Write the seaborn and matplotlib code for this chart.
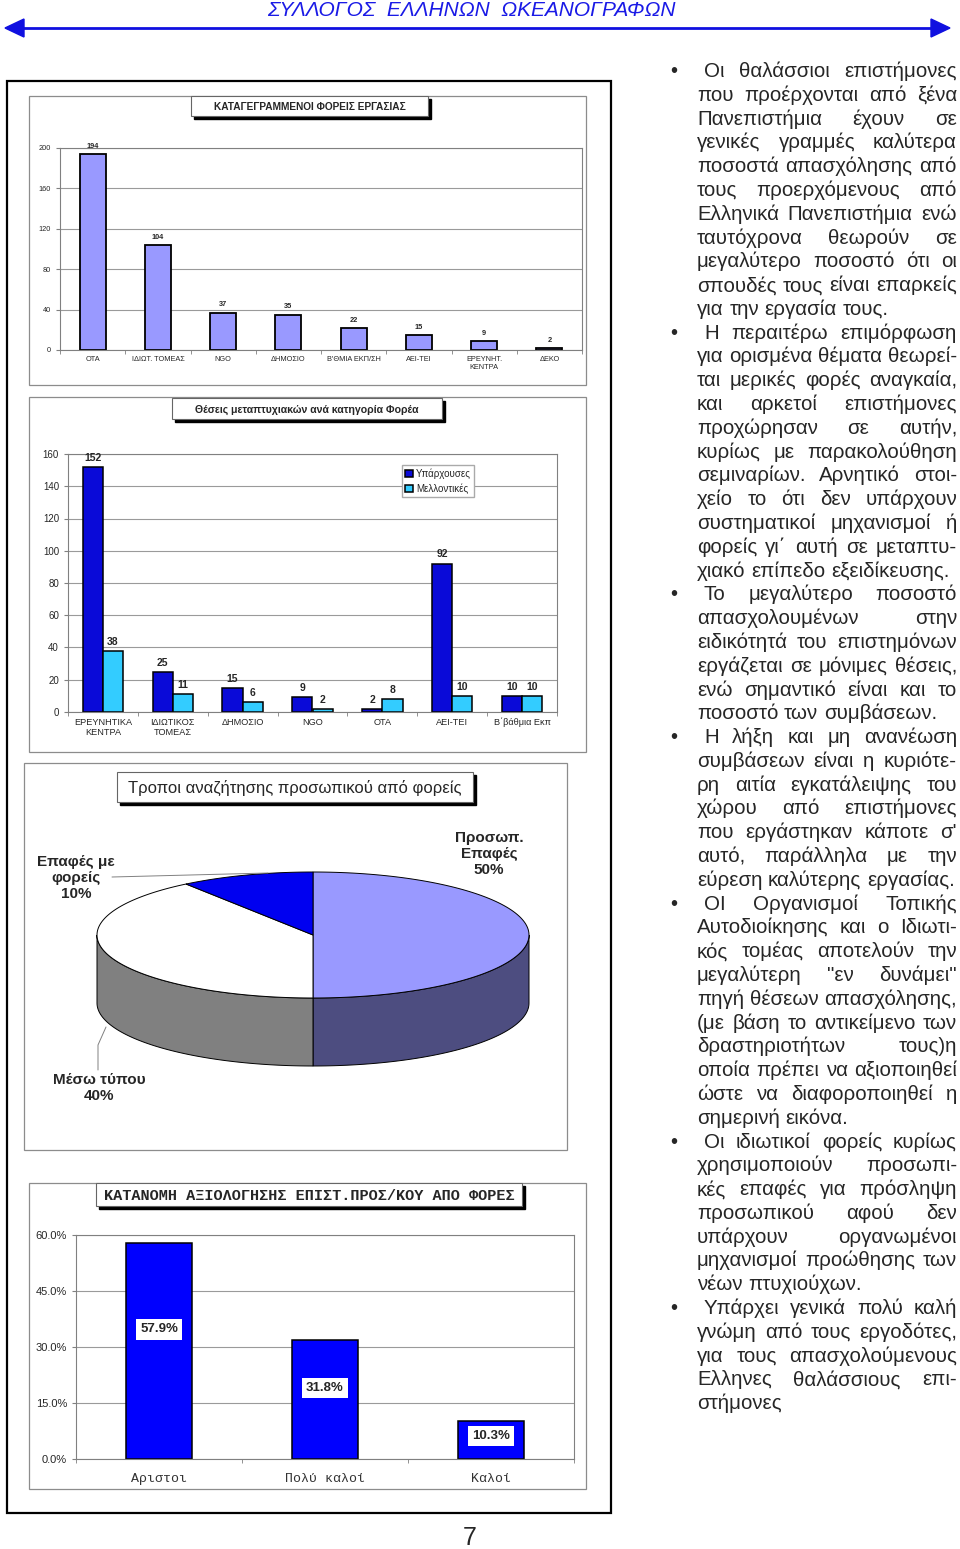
import numpy as np
import pandas as pd
import matplotlib
matplotlib.use('Agg')
import matplotlib.pyplot as plt
from matplotlib.patches import Rectangle, Polygon
from matplotlib.ticker import PercentFormatter
import seaborn as sns

W, H = 960, 1549

# --- data ---
cats1 = ['ΟΤΑ', 'ΙΔΙΩΤ. ΤΟΜΕΑΣ', 'NGO', 'ΔΗΜΟΣΙΟ', "Β'ΘΜΙΑ ΕΚΠ/ΣΗ", 'ΑΕΙ-ΤΕΙ', 'ΕΡΕΥΝΗΤ.\nΚΕΝΤΡΑ', 'ΔΕΚΟ']
vals1 = [194, 104, 37, 35, 22, 15, 9, 2]

cats2 = ['ΕΡΕΥΝΗΤΙΚΑ\nΚΕΝΤΡΑ', 'ΙΔΙΩΤΙΚΟΣ\nΤΟΜΕΑΣ', 'ΔΗΜΟΣΙΟ', 'NGO', 'ΟΤΑ', 'ΑΕΙ-ΤΕΙ', 'Β΄βάθμια Εκπ']
existing = [152, 25, 15, 9, 2, 92, 10]
future = [38, 11, 6, 2, 8, 10, 10]
series2 = ['Υπάρχουσες', 'Μελλοντικές']

pie_names = ['Προσωπ.\nΕπαφές', 'Μέσω τύπου', 'Επαφές με\nφορείς']
pie_vals = [50, 40, 10]

cats4 = ['Αριστοι', 'Πολύ καλοί', 'Καλοί']
vals4 = [0.579, 0.318, 0.103]

paragraphs = [
    [' Οι θαλάσσιοι επιστήμονες', 'που προέρχονται από ξένα', 'Πανεπιστήμια έχουν σε',
     'γενικές γραμμές καλύτερα', 'ποσοστά απασχόλησης από', 'τους προερχόμενους από',
     'Ελληνικά Πανεπιστήμια ενώ', 'ταυτόχρονα θεωρούν σε', 'μεγαλύτερο ποσοστό ότι οι',
     'σπουδές τους είναι επαρκείς', 'για την εργασία τους.'],
    [' Η περαιτέρω επιμόρφωση', 'για ορισμένα θέματα θεωρεί-', 'ται μερικές φορές αναγκαία,',
     'και αρκετοί επιστήμονες', 'προχώρησαν σε αυτήν,', 'κυρίως με παρακολούθηση',
     'σεμιναρίων. Αρνητικό στοι-', 'χείο το ότι δεν υπάρχουν', 'συστηματικοί μηχανισμοί ή',
     'φορείς γι΄ αυτή σε μεταπτυ-', 'χιακό επίπεδο εξειδίκευσης.'],
    [' Το μεγαλύτερο ποσοστό', 'απασχολουμένων στην', 'ειδικότητά του επιστημόνων',
     'εργάζεται σε μόνιμες θέσεις,', 'ενώ σημαντικό είναι και το', 'ποσοστό των συμβάσεων.'],
    [' Η λήξη και μη ανανέωση', 'συμβάσεων είναι η κυριότε-', 'ρη αιτία εγκατάλειψης του',
     'χώρου από επιστήμονες', "που εργάστηκαν κάποτε σ'", 'αυτό, παράλληλα με την',
     'εύρεση καλύτερης εργασίας.'],
    [' ΟΙ Οργανισμοί Τοπικής', 'Αυτοδιοίκησης και ο Ιδιωτι-', 'κός τομέας αποτελούν την',
     'μεγαλύτερη "εν δυνάμει"', 'πηγή θέσεων απασχόλησης,', '(με βάση το αντικείμενο των',
     'δραστηριοτήτων τους)η', 'οποία πρέπει να αξιοποιηθεί', 'ώστε να διαφοροποιηθεί η',
     'σημερινή εικόνα.'],
    [' Οι ιδιωτικοί φορείς κυρίως', 'χρησιμοποιούν προσωπι-', 'κές επαφές για πρόσληψη',
     'προσωπικού αφού δεν', 'υπάρχουν οργανωμένοι', 'μηχανισμοί προώθησης των',
     'νέων πτυχιούχων.'],
    [' Υπάρχει γενικά πολύ καλή', 'γνώμη από τους εργοδότες,', 'για τους απασχολούμενους',
     'Ελληνες θαλάσσιους επι-', 'στήμονες'],
]

sns.set_style('white')
plt.rcParams['font.family'] = ['Liberation Sans', 'DejaVu Sans']

fig = plt.figure(figsize=(W / 100, H / 100), dpi=100)


def rect(x0, y0, x1, y1):
    return [x0 / W, 1 - y1 / H, (x1 - x0) / W, (y1 - y0) / H]


# background layer in pixel coordinates
bg = fig.add_axes([0, 0, 1, 1], zorder=-1)
bg.set_xlim(0, W)
bg.set_ylim(H, 0)
bg.axis('off')

# header
blue_h = '#1a1ae6'
bg.text(471, 10, 'ΣΥΛΛΟΓΟΣ  ΕΛΛΗΝΩΝ  ΩΚΕΑΝΟΓΡΑΦΩΝ', ha='center', va='center',
        fontsize=15, style='italic', color=blue_h)
bg.plot([18, 935], [28, 28], color='#1010e0', lw=2)
bg.add_patch(Polygon([(5, 28), (24, 19), (24, 37)], color='#1010e0'))
bg.add_patch(Polygon([(950, 28), (931, 19), (931, 37)], color='#1010e0'))

# page frame and chart frames
bg.add_patch(Rectangle((7, 81), 604, 1432, fill=False, ec='black', lw=1.6))
for (x0, y0, x1, y1) in [(29, 96, 586, 385), (29, 397, 586, 752), (24, 763, 567, 1150), (29, 1183, 586, 1489)]:
    bg.add_patch(Rectangle((x0, y0), x1 - x0, y1 - y0, fill=False, ec='#8c8c8c', lw=0.9))


def title_box(x0, y0, x1, y1, text, **kw):
    bg.add_patch(Rectangle((x0 + 3, y0 + 3), x1 - x0, y1 - y0, color='black', zorder=3))
    bg.add_patch(Rectangle((x0, y0), x1 - x0, y1 - y0, fc='white', ec='#666666', lw=0.8, zorder=4))
    bg.text((x0 + x1) / 2, (y0 + y1) / 2 + 1, text, ha='center', va='center', zorder=5, **kw)


title_box(191, 96, 428, 116, 'ΚΑΤΑΓΕΓΡΑΜΜΕΝΟΙ ΦΟΡΕΙΣ ΕΡΓΑΣΙΑΣ', fontsize=7.3, weight='bold')
title_box(172, 398, 442, 419, 'Θέσεις μεταπτυχιακών ανά κατηγορία Φορέα', fontsize=7.6, weight='bold')
title_box(117, 772, 473, 802, 'Τροποι αναζήτησης προσωπικού από φορείς', fontsize=12)
title_box(96, 1183, 522, 1206, 'ΚΑΤΑΝΟΜΗ ΑΞΙΟΛΟΓΗΣΗΣ ΕΠΙΣΤ.ΠΡΟΣ/ΚΟΥ ΑΠΟ ΦΟΡΕΣ',
          fontsize=11, weight='bold', family='Liberation Mono')


def style_ax(ax, n, fs):
    for s in ax.spines.values():
        s.set_color('#808080')
        s.set_linewidth(0.8)
    ax.yaxis.grid(True, color='#9a9a9a', lw=0.8)
    ax.set_axisbelow(True)
    ax.set_xlim(-0.5, n - 0.5)
    ax.set_xlabel('')
    ax.set_ylabel('')
    ax.tick_params(axis='x', which='major', length=0, labelsize=fs, pad=4)
    ax.tick_params(axis='y', length=3, color='#808080', labelsize=fs, left=True)
    ax.set_xticks(np.arange(-0.5, n, 1), minor=True)
    ax.tick_params(axis='x', which='minor', length=3, color='#808080', bottom=True)


# chart 1
ax1 = fig.add_axes(rect(60, 148, 582, 350))
sns.barplot(x=cats1, y=vals1, color='#9999ff', saturation=1, width=0.4,
            edgecolor='black', linewidth=1.3, ax=ax1)
style_ax(ax1, len(cats1), 5.3)
ax1.set_ylim(0, 200)
ax1.set_yticks(range(0, 201, 40))
ax1.bar_label(ax1.containers[0], fontsize=5.3, fontweight='bold', padding=3)

# chart 2
df2 = pd.DataFrame({'cat': cats2 * 2, 'val': existing + future,
                    'series': [series2[0]] * len(cats2) + [series2[1]] * len(cats2)})
ax2 = fig.add_axes(rect(68, 454, 557, 712))
sns.barplot(data=df2, x='cat', y='val', hue='series', palette=['#0a0ad8', '#33ccff'],
            saturation=1, width=0.58, edgecolor='black', linewidth=1.1, ax=ax2)
style_ax(ax2, len(cats2), 6.6)
ax2.set_ylim(0, 160)
ax2.set_yticks(range(0, 161, 20))
ax2.tick_params(axis='y', labelsize=7)
for c in ax2.containers:
    ax2.bar_label(c, fontsize=7.5, fontweight='bold', padding=3)
ax2.legend(loc='upper left', bbox_to_anchor=(402 / W, 1 - 465 / H), bbox_transform=fig.transFigure,
           fontsize=7, frameon=True, fancybox=False, edgecolor='#aaaaaa', framealpha=1,
           handlelength=0.8, handleheight=0.8, handletextpad=0.3, borderpad=0.35,
           labelspacing=0.45, borderaxespad=0)

# chart 3: 3D pie drawn from the values
axp = fig.add_axes(rect(24, 763, 567, 1150))
axp.set_xlim(24, 567)
axp.set_ylim(1150, 763)
axp.axis('off')
cx, cy, rx, ry, depth = 313, 935, 216, 63, 68
top_cols = ['#9999ff', '#ffffff', '#0000f0']
side_cols = ['#4d4d80', '#808080', '#000080']
total = sum(pie_vals)
start = 90.0
spans = []
for v in pie_vals:
    end = start - v / total * 360
    spans.append((start, end))
    start = end


def ell(t, dy=0):
    t = np.radians(t)
    return np.column_stack([cx + rx * np.cos(t), cy - ry * np.sin(t) + dy])


for (a0, a1), sc in zip(spans, side_cols):
    hi, lo = min(a0, 0), max(a1, -180)
    if hi > lo:
        t = np.linspace(hi, lo, 80)
        pts = np.vstack([ell(t), ell(t[::-1], depth)])
        axp.add_patch(Polygon(pts, fc=sc, ec='black', lw=0.7))
for (a0, a1), tc in zip(spans, top_cols):
    t = np.linspace(a0, a1, 120)
    pts = np.vstack([[cx, cy], ell(t)])
    axp.add_patch(Polygon(pts, fc=tc, ec='black', lw=0.7))

lab_kw = dict(ha='center', va='center', fontsize=11, weight='bold', linespacing=1.15)
axp.text(489, 854, f'{pie_names[0]}\n{pie_vals[0]}%', **lab_kw)
axp.text(99, 1088, f'{pie_names[1]}\n{pie_vals[1]}%', **lab_kw)
axp.text(76, 878, f'{pie_names[2]}\n{pie_vals[2]}%', **lab_kw)
axp.plot([112, 268], [877, 873], color='#808080', lw=0.7)
axp.plot([98, 98, 106], [1070, 1045, 1027], color='#808080', lw=0.7)

# chart 4
ax4 = fig.add_axes(rect(76, 1235, 574, 1459))
sns.barplot(x=cats4, y=vals4, color='#0000ff', saturation=1, width=0.4,
            edgecolor='black', linewidth=1.1, ax=ax4)
style_ax(ax4, len(cats4), 8)
ax4.set_ylim(0, 0.6)
ax4.set_yticks(np.arange(0, 0.61, 0.15))
ax4.yaxis.set_major_formatter(PercentFormatter(1.0, decimals=1))
for lab in ax4.get_xticklabels():
    lab.set_family('Liberation Mono')
    lab.set_fontsize(9.5)
    lab.set_color('#333333')
ax4.tick_params(axis='x', pad=10)
for i, v in enumerate(vals4):
    ax4.text(i, v * 0.6, f'{v * 100:.1f}%', ha='center', va='center', fontsize=9.5, weight='bold',
             bbox=dict(fc='white', ec='none', pad=3))

# page number
bg.text(470, 1538, '7', ha='center', va='center', fontsize=18)

# right-hand text column, justified
renderer = fig.canvas.get_renderer()
x_left, x_right, y0, step = 697, 957, 77, 23.79
txt_kw = dict(fontsize=14.8, va='baseline', ha='left')
line_no = 0
for para in paragraphs:
    for j, line in enumerate(para):
        y = y0 + line_no * step
        if j == 0:
            bg.text(670, y, '•', **txt_kw)
        start_x = x_left + (7 if line.startswith(' ') else 0)
        words = line.split()
        arts = [bg.text(0, y, w, **txt_kw) for w in words]
        widths = [a.get_window_extent(renderer).width for a in arts]
        last = j == len(para) - 1
        if last or len(words) == 1:
            gap = 5.6
        else:
            gap = max((x_right - start_x - sum(widths)) / (len(words) - 1), 2.5)
        x = start_x
        for a, w in zip(arts, widths):
            a.set_x(x)
            x += w + gap
        line_no += 1

fig.savefig('out.png', dpi=100)
